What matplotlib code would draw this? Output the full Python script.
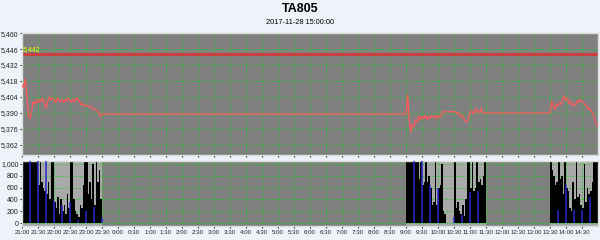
import numpy as np
import matplotlib
matplotlib.use('Agg')
import matplotlib.pyplot as plt

# 时间轴: 从21:00起的分钟数
sessions = [(0, 150), (720, 795), (810, 870), (990, 1080)]  # 21:00-23:30, 9:00-10:15, 10:30-11:30, 13:30-15:00

# 价格 (每3分钟一个点)
price_night = [5414, 5412, 5420, 5405, 5388, 5385, 5392, 5400, 5398, 5401,
               5399, 5402, 5400, 5403, 5398, 5394, 5400, 5404, 5401, 5403,
               5402, 5399, 5403, 5401, 5400, 5402, 5399, 5402, 5400, 5403,
               5401, 5399, 5402, 5400, 5403, 5402, 5400, 5397, 5398, 5396,
               5397, 5396, 5395, 5396, 5394, 5393, 5393, 5392, 5390, 5387, 5389]
price_am1 = [5389, 5406, 5384, 5373, 5380, 5378, 5384, 5382, 5387, 5384,
             5387, 5385, 5388, 5384, 5387, 5385, 5388, 5386, 5387, 5385,
             5388, 5386, 5388, 5391, 5391, 5391]
price_am2 = [5391, 5391, 5389, 5390, 5387, 5388, 5385, 5383, 5382, 5385,
             5390, 5392, 5389, 5391, 5394, 5390, 5391, 5394, 5390, 5390, 5390]
price_pm = [5390, 5400, 5396, 5393, 5398, 5396, 5399, 5397, 5402, 5405,
            5401, 5403, 5398, 5400, 5396, 5398, 5397, 5401, 5399, 5402,
            5400, 5399, 5397, 5396, 5393, 5394, 5391, 5389, 5384, 5380, 5378]
ref_price = 5442

# 成交量 (每3分钟一根)
vol_night = [1500, 1500, 1500, 1500, 1500, 1500, 1500, 1500, 1500, 1500,
             650, 1200, 700, 600, 550,
             500, 700, 400, 1100, 1200,
             350, 250, 450, 150, 400,
             200, 300, 150, 500, 250,
             1200, 1300, 400, 200, 150,
             100, 300, 250, 650, 1100,
             1300, 500, 700, 400, 1000,
             300, 1200, 700, 900, 400]
vol_am1 = [1500, 1500, 1500, 1500, 1500, 1500, 1500, 1500,
           750, 1100, 650, 700, 1200, 700, 800, 600,
           300, 350, 1100, 300, 600, 650, 1000, 200, 150]
vol_am2 = [1300, 250, 350, 200, 150, 300, 120, 400, 1200, 1300,
           600, 1100, 550, 600, 1200, 700, 750, 650, 800, 1300]
vol_pm = [1300, 900, 800, 650, 700, 1200, 750, 800, 500, 1100,
          600, 550, 250, 200, 700, 400, 1100, 450, 500, 300,
          250, 1000, 350, 600, 500, 550, 700, 1300, 1400, 1400]

# 蓝线 (每15分钟)
blue_t = [15, 30, 45, 60, 75, 90, 105, 120, 135, 150,
          735, 750, 765, 780, 810, 825, 840, 855,
          1005, 1020, 1035, 1050, 1065]
blue_v = [1500, 1500, 1500, 380, 300, 360, 55, 200, 280, 80,
          1500, 1500, 650, 600, 100, 140, 520, 545,
          220, 650, 220, 220, 440]

price_yticks = [5460, 5446, 5432, 5418, 5404, 5390, 5376, 5362]
vol_yticks = [0, 200, 400, 600, 800, 1000]

prices = [price_night, price_am1, price_am2, price_pm]
vols = [vol_night, vol_am1, vol_am2, vol_pm]

t_price = np.concatenate([np.arange(s, e + 1, 3) for s, e in sessions])
p_all = np.concatenate(prices)

fnt = 'Liberation Sans'

fig = plt.figure(figsize=(6, 2.4), dpi=100, facecolor='#eef3fa')
ax1 = fig.add_axes([0.0367, 0.354, 0.96, 0.508])
ax2 = fig.add_axes([0.0367, 0.058, 0.96, 0.271])

fig.text(0.5, 1 - 9 / 240, 'TA805', ha='center', va='center', fontsize=9,
         fontweight='bold', family=fnt)
fig.text(0.5, 1 - 23 / 240, '2017-11-28 15:00:00', ha='center', va='center',
         fontsize=5.3, family=fnt)

xt = list(range(0, 1080, 30))
xl = ['%d:%02d' % ((21 + m // 60) % 24, m % 60) for m in xt]

for ax in (ax1, ax2):
    ax.set_facecolor('#808080')
    ax.set_xlim(0, 1080)
    ax.set_xticks(xt)
    ax.set_axisbelow(True)
    ax.grid(True, color='#22cc22', linestyle=(0, (2, 2)), linewidth=0.6)
    ax.tick_params(axis='y', labelsize=5, length=1.5, pad=1, colors='#222222')
    ax.tick_params(axis='x', labelsize=4.4, length=1.5, pad=1.5, colors='#222222')
    for s in ax.spines.values():
        s.set_color('#dcdcdc')
        s.set_linewidth(1)

# 价格图
ax1.plot(t_price, p_all, color='#ff5a5a', linewidth=0.9, zorder=3)
ax1.axhline(ref_price, color='#d03a3a', linewidth=2, zorder=2)
ax1.text(2, ref_price + 0.5, '{:,}'.format(ref_price), color='#ffff00',
         fontsize=5, family=fnt, va='bottom', ha='left', zorder=4)
ax1.set_ylim(5353, 5460)
ax1.set_yticks(price_yticks)
ax1.set_yticklabels(['{:,}'.format(v) for v in price_yticks])
ax1.set_xticklabels([])

# 成交量图
for s, e in [(0, 150), (720, 870), (990, 1080)]:
    ax2.axvspan(s, e, color='#a9a9a9', linewidth=0, zorder=0.2)
for (s, e), v in zip(sessions, vols):
    ax2.bar(np.arange(s, e, 3), v, width=3, align='edge', color='black',
            linewidth=0, zorder=2)
ax2.vlines(blue_t, 0, blue_v, color='#2a2ad0', linewidth=1.1, zorder=3)
ax2.set_ylim(-50, 1050)
ax2.set_yticks(vol_yticks)
ax2.set_yticklabels(['{:,}'.format(v) for v in vol_yticks])
ax2.set_xticklabels(xl)

for ax in (ax1, ax2):
    for lab in ax.get_xticklabels() + ax.get_yticklabels():
        lab.set_family(fnt)

plt.savefig('out.png', dpi=100, facecolor=fig.get_facecolor())
